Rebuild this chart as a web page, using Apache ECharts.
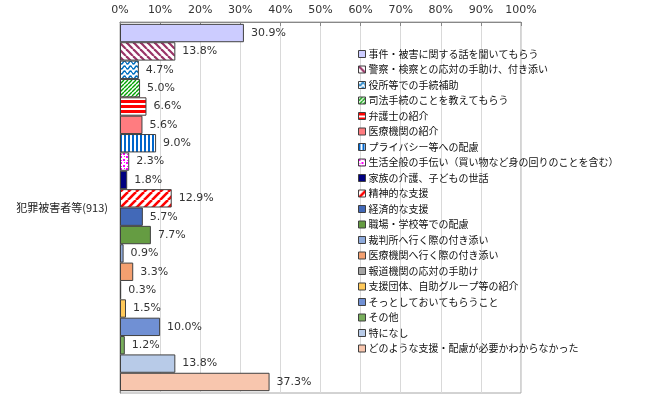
<!DOCTYPE html>
<html>
<head>
<meta charset="utf-8">
<script src="https://cdn.jsdelivr.net/npm/echarts@6/dist/echarts.min.js"></script>
<style>
  html, body { margin: 0; padding: 0; background: #fff; }
  #chart { width: 650px; height: 399px; }
</style>
</head>
<body>
<div id="chart"></div>
<script>
const categories = ['犯罪被害者等(913)'];
const seriesNames = [
  '事件・被害に関する話を聞いてもらう',
  '警察・検察との応対の手助け、付き添い',
  '役所等での手続補助',
  '司法手続のことを教えてもらう',
  '弁護士の紹介',
  '医療機関の紹介',
  'プライバシー等への配慮',
  '生活全般の手伝い（買い物など身の回りのことを含む）',
  '家族の介護、子どもの世話',
  '精神的な支援',
  '経済的な支援',
  '職場・学校等での配慮',
  '裁判所へ行く際の付き添い',
  '医療機関へ行く際の付き添い',
  '報道機関の応対の手助け',
  '支援団体、自助グループ等の紹介',
  'そっとしておいてもらうこと',
  'その他',
  '特になし',
  'どのような支援・配慮が必要かわからなかった'
];
const values = [30.9, 13.8, 4.7, 5.0, 6.6, 5.6, 9.0, 2.3, 1.8, 12.9, 5.7, 7.7, 0.9, 3.3, 0.3, 1.5, 10.0, 1.2, 13.8, 37.3];
const xTicks = [0, 10, 20, 30, 40, 50, 60, 70, 80, 90, 100];

// pattern helpers
function makeCanvas(w, h, draw) {
  const c = document.createElement('canvas');
  c.width = w; c.height = h;
  const ctx = c.getContext('2d');
  ctx.fillStyle = '#fff';
  ctx.fillRect(0, 0, w, h);
  draw(ctx);
  return { image: c, repeat: 'repeat' };
}
function diag(color, size, lw, back) {
  return makeCanvas(size, size, ctx => {
    ctx.strokeStyle = color; ctx.lineWidth = lw;
    for (let k = -1; k <= 1; k++) {
      ctx.beginPath();
      if (back) { ctx.moveTo(k * size, 0); ctx.lineTo(k * size + size, size); }
      else { ctx.moveTo(k * size, size); ctx.lineTo(k * size + size, 0); }
      ctx.stroke();
    }
  });
}
const patterns = {
  maroonDiag: diag('#993366', 7, 2.2, true),
  greenDiag: diag('#00a000', 4, 1.4, false),
  redDiag: diag('#ff0000', 8, 2.6, false),
  wave: makeCanvas(6, 5, ctx => {
    ctx.strokeStyle = '#0070c0'; ctx.lineWidth = 1.4;
    ctx.beginPath();
    for (let x = 0; x <= 6; x += 0.5) {
      const y = 2.5 + 1.5 * Math.sin(x / 6 * Math.PI * 2);
      x === 0 ? ctx.moveTo(x, y) : ctx.lineTo(x, y);
    }
    ctx.stroke();
  }),
  redHoriz: makeCanvas(4, 5, ctx => { ctx.fillStyle = '#ff0000'; ctx.fillRect(0, 0, 4, 3); }),
  blueVert: makeCanvas(4, 4, ctx => { ctx.fillStyle = '#0066cc'; ctx.fillRect(0, 0, 2, 4); }),
  dots: makeCanvas(6, 6, ctx => {
    ctx.fillStyle = '#ff00ff';
    ctx.fillRect(0, 0, 2, 2); ctx.fillRect(3, 3, 2, 2);
    ctx.fillRect(4, 0, 1, 1); ctx.fillRect(1, 4, 1, 1);
  })
};

const fills = [
  '#ccccff', patterns.maroonDiag, patterns.wave, patterns.greenDiag, patterns.redHoriz,
  '#ff7c80', patterns.blueVert, patterns.dots, '#000080', patterns.redDiag,
  '#4269b8', '#659c42', '#8eaadb', '#f4a070', '#a5a5a5',
  '#ffc95a', '#7090d4', '#78ae5c', '#b8cbe8', '#f8c6ae'
];

const series = seriesNames.map((name, i) => ({
  name: name,
  type: 'bar',
  data: [values[i]],
  barGap: '0%',
  barCategoryGap: '1%',
  itemStyle: { color: fills[i], borderColor: '#404040', borderWidth: 1 },
  label: {
    show: true,
    position: 'right',
    distance: 7,
    color: '#333',
    fontSize: 11,
    fontFamily: 'DejaVu Sans',
    formatter: p => p.value.toFixed(1) + '%'
  }
}));

const chart = echarts.init(document.getElementById('chart'));
chart.setOption({
  animation: false,
  textStyle: { fontFamily: '"Noto Sans CJK JP", sans-serif' },
  grid: {
    left: 120, right: 129, top: 22, bottom: 6,
    show: true, borderColor: '#a6a6a6', borderWidth: 1
  },
  xAxis: {
    type: 'value',
    position: 'top',
    min: xTicks[0],
    max: xTicks[xTicks.length - 1],
    interval: 10,
    axisLine: { show: true, lineStyle: { color: '#888' } },
    axisTick: { show: true, inside: true, length: 4, lineStyle: { color: '#888' } },
    axisLabel: { formatter: '{value}%', color: '#333', fontSize: 11, fontFamily: 'DejaVu Sans', margin: 6 },
    splitLine: { show: true, lineStyle: { color: '#d9d9d9' } }
  },
  yAxis: {
    type: 'category',
    data: categories,
    inverse: true,
    axisLine: { show: true, lineStyle: { color: '#888' } },
    axisTick: { show: false },
    axisLabel: { color: '#222', fontSize: 11, margin: 12 }
  },
  legend: {
    orient: 'vertical',
    left: 353,
    top: 42,
    itemWidth: 7,
    itemHeight: 7,
    itemGap: 1.5,
    icon: 'rect',
    textStyle: { fontSize: 10, color: '#111', lineHeight: 14, padding: [0, 0, 0, -2] },
    itemStyle: { borderColor: '#404040', borderWidth: 1 }
  },
  series: series
});
</script>
</body>
</html>
